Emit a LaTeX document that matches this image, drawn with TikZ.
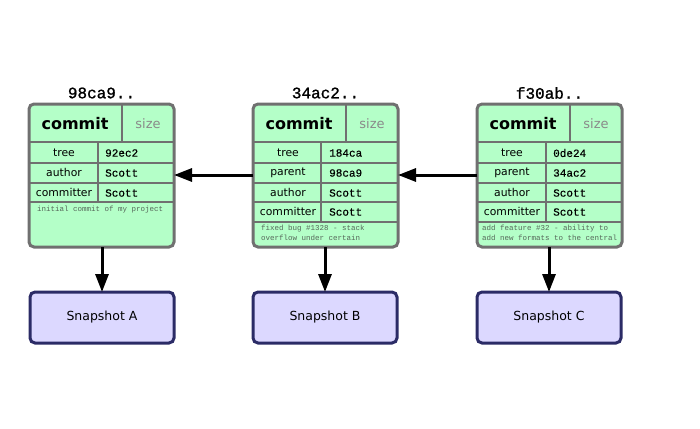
\documentclass[tikz,border=0pt]{standalone}
\usepackage{fontspec}
\setmainfont{DejaVu Sans}
\setsansfont{DejaVu Sans}
\setmonofont{Liberation Mono}
\newfontfamily\monoheavy[FakeBold=1.2]{Liberation Mono}
\newfontfamily\monomid[FakeBold=0.4]{Liberation Mono}
\usetikzlibrary{arrows.meta}
\definecolor{cfill}{HTML}{B4FFC8}
\definecolor{cborder}{HTML}{707070}
\definecolor{sfill}{HTML}{DCD8FF}
\definecolor{sborder}{HTML}{2B2B66}
\definecolor{msgc}{HTML}{56685A}
\definecolor{sizec}{HTML}{8A8A8A}
\tikzset{
  commitbox/.style={draw=cborder, fill=cfill, line width=3pt, rounded corners=5pt,
    minimum width=145pt, minimum height=143pt, inner sep=0pt, outer sep=0pt},
  inner/.style={draw=cborder, line width=2pt},
  snapbox/.style={draw=sborder, fill=sfill, line width=3pt, rounded corners=5pt,
    minimum width=144pt, minimum height=51pt, inner sep=0pt, outer sep=0pt,
    font=\fontsize{12.5}{14}\selectfont},
  hashlbl/.style={font=\monoheavy\fontsize{16}{18}\selectfont, inner sep=0pt},
  hdr/.style={font=\bfseries\fontsize{16}{18}\selectfont, inner sep=0pt},
  sizelbl/.style={font=\fontsize{13}{15}\selectfont, text=sizec, inner sep=0pt},
  rowlbl/.style={font=\fontsize{10.8}{12}\selectfont, inner sep=0pt},
  rowval/.style={font=\monomid\fontsize{11}{12}\selectfont, inner sep=0pt, anchor=west},
  msg/.style={font=\ttfamily\fontsize{7.5}{10}\selectfont, text=msgc, inner sep=0pt,
    anchor=north west, align=left},
  arr/.style={line width=3pt, -{Triangle[length=18pt,width=13pt]}},
}
\begin{document}
\begin{tikzpicture}[x=1pt,y=-1pt]
\useasboundingbox (0,0) rectangle (700,428);

% ---------- commit 1 ----------
\begin{scope}[shift={(29,0)}]
\node[commitbox] (c1) at (72.5,175.5) {};
\draw[inner] (0,142) -- (145,142);
\draw[inner] (93,104) -- (93,142);
\draw[inner] (0,163) -- (145,163);
\draw[inner] (0,183) -- (145,183);
\draw[inner] (0,202) -- (145,202);
\draw[inner] (69,142) -- (69,202);
\node[hashlbl] (h1) at (72.5,93) {98ca9..};
\node[hdr] (c1a) at (46,124) {commit};
\node[sizelbl] (c1b) at (119,124) {size};
\node[rowlbl] (c1r1) at (35,153) {tree};
\node[rowlbl] (c1r2) at (35,172.5) {author};
\node[rowlbl] (c1r3) at (35,192) {committer};
\node[rowval] (c1v1) at (76,153) {92ec2};
\node[rowval] (c1v2) at (76,173) {Scott};
\node[rowval] (c1v3) at (76,193) {Scott};
\node[msg] (c1m) at (8,206) {initial commit of my project};
\node[snapbox] (s1) at (73,317.5) {Snapshot A};
\end{scope}

% ---------- commit 2 ----------
\begin{scope}[shift={(253,0)}]
\node[commitbox] (c2) at (72.5,175.5) {};
\draw[inner] (0,142) -- (145,142);
\draw[inner] (93,104) -- (93,142);
\draw[inner] (0,163) -- (145,163);
\draw[inner] (0,183) -- (145,183);
\draw[inner] (0,202) -- (145,202);
\draw[inner] (0,222) -- (145,222);
\draw[inner] (68,142) -- (68,222);
\node[hashlbl] (h2) at (72.5,93) {34ac2..};
\node[hdr] (c2a) at (46,124) {commit};
\node[sizelbl] (c2b) at (119,124) {size};
\node[rowlbl] (c2r1) at (35,153) {tree};
\node[rowlbl] (c2r2) at (35,172.5) {parent};
\node[rowlbl] (c2r3) at (35,192) {author};
\node[rowlbl] (c2r4) at (35,211.5) {committer};
\node[rowval] (c2v1) at (76,153) {184ca};
\node[rowval] (c2v2) at (76,173) {98ca9};
\node[rowval] (c2v3) at (76,193) {Scott};
\node[rowval] (c2v4) at (76,212) {Scott};
\node[msg] (c2m) at (8,224.5) {fixed bug \#1328 - stack\\overflow under certain};
\node[snapbox] (s2) at (72,317.5) {Snapshot B};
\end{scope}

% ---------- commit 3 ----------
\begin{scope}[shift={(477,0)}]
\node[commitbox] (c3) at (72.5,175.5) {};
\draw[inner] (0,142) -- (145,142);
\draw[inner] (93,104) -- (93,142);
\draw[inner] (0,163) -- (145,163);
\draw[inner] (0,183) -- (145,183);
\draw[inner] (0,202) -- (145,202);
\draw[inner] (0,222) -- (145,222);
\draw[inner] (69,142) -- (69,222);
\node[hashlbl] (h3) at (72.5,93) {f30ab..};
\node[hdr] (c3a) at (46,124) {commit};
\node[sizelbl] (c3b) at (119,124) {size};
\node[rowlbl] (c3r1) at (35,153) {tree};
\node[rowlbl] (c3r2) at (35,172.5) {parent};
\node[rowlbl] (c3r3) at (35,192) {author};
\node[rowlbl] (c3r4) at (35,211.5) {committer};
\node[rowval] (c3v1) at (76,153) {0de24};
\node[rowval] (c3v2) at (76,173) {34ac2};
\node[rowval] (c3v3) at (76,193) {Scott};
\node[rowval] (c3v4) at (76,212) {Scott};
\node[msg] (c3m) at (5,224.5) {add feature \#32 - ability to\\add new formats to the central};
\node[snapbox] (s3) at (72,317.5) {Snapshot C};
\end{scope}

% ---------- connectors ----------
\draw[arr] (c2.west |- 0,175) -- (c1.east |- 0,175);
\draw[arr] (c3.west |- 0,175) -- (c2.east |- 0,175);
\draw[arr] (c1.south -| s1.north) -- (s1.north);
\draw[arr] (c2.south -| s2.north) -- (s2.north);
\draw[arr] (c3.south -| s3.north) -- (s3.north);
\end{tikzpicture}
\end{document}
